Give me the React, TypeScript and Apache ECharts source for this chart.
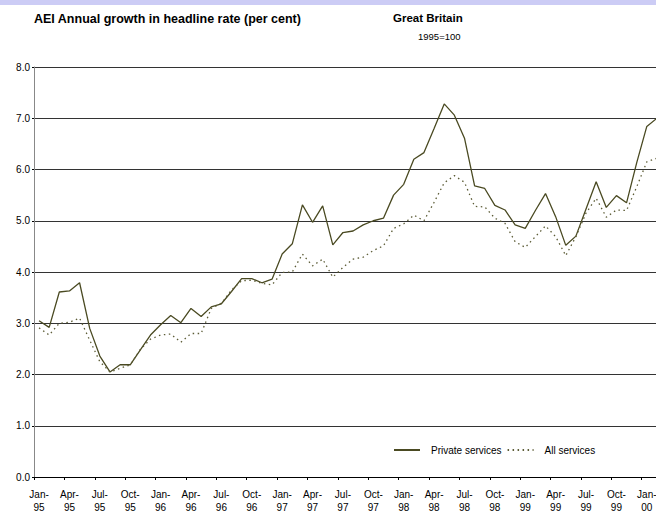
import React, { useEffect, useRef } from "react";
import * as echarts from "echarts";

const months = ["Jan", "Feb", "Mar", "Apr", "May", "Jun", "Jul", "Aug", "Sep", "Oct", "Nov", "Dec"];
const years = ["95", "96", "97", "98", "99", "00"];
const categories: string[] = [];
years.forEach((y) => months.forEach((m) => categories.push(m + "-" + y)));
const cats = categories.slice(0, 62);

const privateServices = [
  3.05, 2.92, 3.61, 3.63, 3.79, 2.9, 2.36, 2.05, 2.19, 2.19, 2.48, 2.77,
  2.97, 3.15, 3.01, 3.29, 3.13, 3.32, 3.38, 3.62, 3.87, 3.87, 3.79, 3.86,
  4.35, 4.55, 5.31, 4.97, 5.29, 4.53, 4.77, 4.8, 4.92, 5.0, 5.05, 5.5,
  5.71, 6.2, 6.33, 6.8, 7.28, 7.06, 6.61, 5.68, 5.63, 5.3, 5.21, 4.92,
  4.85, 5.2, 5.53, 5.08, 4.52, 4.7, 5.23, 5.76, 5.26, 5.49, 5.35, 6.13,
  6.84, 7.0,
];

const allServices = [
  2.91, 2.77, 3.0, 3.02, 3.1, 2.67, 2.25, 2.05, 2.12, 2.19, 2.49, 2.69,
  2.77, 2.79, 2.63, 2.8, 2.8, 3.29, 3.39, 3.65, 3.83, 3.84, 3.78, 3.75,
  3.99, 4.0, 4.35, 4.12, 4.25, 3.9, 4.09, 4.25, 4.29, 4.42, 4.51, 4.85,
  4.94, 5.11, 5.0, 5.36, 5.74, 5.88, 5.75, 5.28, 5.27, 5.05, 4.95, 4.59,
  4.48, 4.69, 4.9, 4.69, 4.32, 4.69, 5.15, 5.44, 5.07, 5.21, 5.2, 5.66,
  6.15, 6.22,
];

const yTicks = [0, 1, 2, 3, 4, 5, 6, 7, 8];

const FONT = "Liberation Sans, Arial, sans-serif";

export default function App() {
  const ref = useRef<HTMLDivElement>(null);
  useEffect(() => {
    document.body.style.margin = "0";
    document.body.style.overflow = "hidden";
    if (!ref.current) return;
    const chart = echarts.init(ref.current, undefined, { renderer: "svg" });
    chart.setOption({
      animation: false,
      backgroundColor: "#ffffff",
      textStyle: { fontFamily: FONT },
      graphic: [
        { type: "rect", left: 0, top: 0, shape: { width: 656, height: 5 }, style: { fill: "#ccccf5" } },
      ],
      title: [
        {
          text: "AEI Annual growth in headline rate (per cent)",
          left: 34,
          top: 12,
          padding: 0,
          textStyle: { fontSize: 12.5, fontWeight: "bold", color: "#000", fontFamily: FONT },
        },
        {
          text: "Great Britain",
          left: 393,
          top: 12,
          padding: 0,
          textStyle: { fontSize: 11.5, fontWeight: "bold", color: "#000", fontFamily: FONT },
        },
        {
          text: "1995=100",
          left: 418,
          top: 31,
          padding: 0,
          textStyle: { fontSize: 9.5, fontWeight: "normal", color: "#000", fontFamily: FONT },
        },
      ],
      legend: {
        left: 388,
        top: 440,
        itemWidth: 26,
        itemHeight: 10,
        itemGap: 5,
        itemStyle: { opacity: 0 },
        textStyle: { fontSize: 10, color: "#000", fontFamily: FONT, padding: [12, 0, 0, 6] },
        data: ["Private services", "All services"],
      },
      grid: {
        left: 34,
        top: 67,
        width: 628,
        height: 410,
        containLabel: false,
        outerBoundsMode: "none",
      },
      xAxis: {
        type: "category",
        data: cats,
        boundaryGap: true,
        axisLine: { lineStyle: { color: "#000", width: 1 } },
        axisTick: { show: true, interval: 2, length: 3, lineStyle: { color: "#000" } },
        axisLabel: {
          interval: 2,
          fontSize: 10,
          lineHeight: 13,
          margin: 11,
          color: "#000",
          fontFamily: FONT,
          formatter: (v: string) => v.replace("-", "-\n"),
        },
        splitLine: { show: false },
      },
      yAxis: {
        type: "value",
        min: 0,
        max: 8,
        interval: 1,
        axisLine: { show: true, lineStyle: { color: "#888", width: 1 } },
        axisTick: { show: true, length: 2, lineStyle: { color: "#000" } },
        axisLabel: {
          fontSize: 10,
          color: "#000",
          margin: 4,
          fontFamily: FONT,
          formatter: (v: number) => (yTicks.includes(v) ? v.toFixed(1) : ""),
        },
        splitLine: { show: true, lineStyle: { color: "#333", width: 1 } },
      },
      series: [
        {
          name: "Private services",
          type: "line",
          data: privateServices,
          showSymbol: false,
          symbol: "none",
          lineStyle: { color: "#4a4a22", width: 1.3 },
          itemStyle: { color: "#4a4a22" },
        },
        {
          name: "All services",
          type: "line",
          data: allServices,
          showSymbol: false,
          symbol: "none",
          lineStyle: { color: "#5c5c36", width: 1.3, type: [1.5, 3.5] },
          itemStyle: { color: "#5c5c36" },
        },
      ],
    });
    return () => chart.dispose();
  }, []);
  return <div ref={ref} style={{ width: 656, height: 517, overflow: "hidden" }} />;
}
